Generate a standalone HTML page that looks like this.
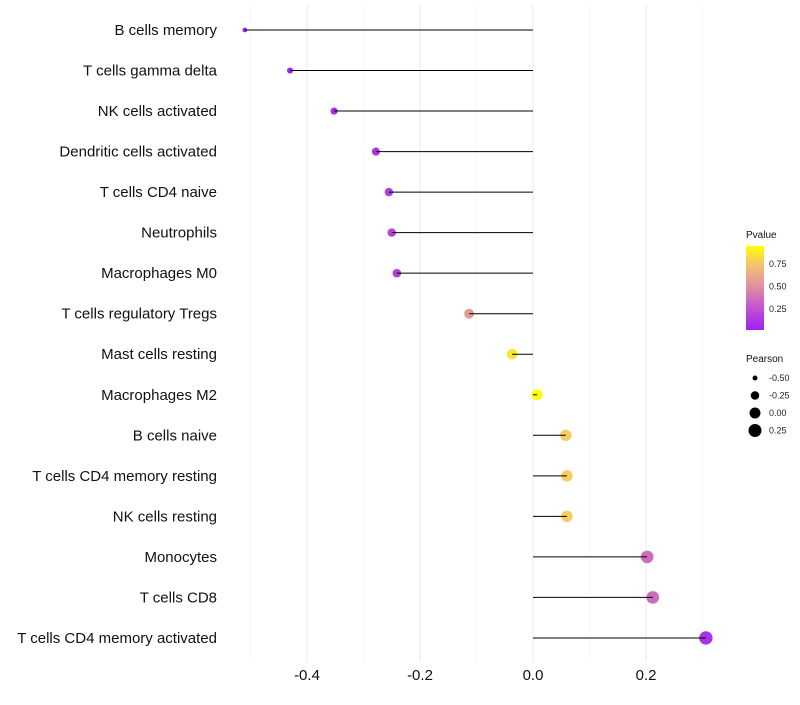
<!DOCTYPE html>
<html><head><meta charset="utf-8"><style>
body{margin:0;background:#fff;font-family:"Liberation Sans",sans-serif}
</style></head><body>
<svg id="chart" width="800" height="700" xmlns="http://www.w3.org/2000/svg">
<rect width="800" height="700" fill="#fff"/>
<g id="grid"></g><g id="marks"></g><g id="ylabels"></g><g id="xlabels"></g><g id="legend"></g>
</svg>
<script>
const categories=["B cells memory","T cells gamma delta","NK cells activated","Dendritic cells activated","T cells CD4 naive","Neutrophils","Macrophages M0","T cells regulatory  Tregs ","Mast cells resting","Macrophages M2","B cells naive","T cells CD4 memory resting","NK cells resting","Monocytes","T cells CD8","T cells CD4 memory activated"];
const pearson=[-0.51,-0.43,-0.352,-0.278,-0.255,-0.25,-0.241,-0.113,-0.037,0.007,0.058,0.06,0.06,0.202,0.212,0.306];
const pvalues=[0.02,0.05,0.08,0.12,0.17,0.19,0.17,0.55,0.86,0.95,0.78,0.78,0.78,0.36,0.36,0.1];
const xTicks=[-0.4,-0.2,0.0,0.2];
const xMinor=[-0.5,-0.3,-0.1,0.1,0.3];
const legendP=[0.75,0.5,0.25];
const legendSizes=[-0.5,-0.25,0,0.25];
const NS="http://www.w3.org/2000/svg";
function xs(v){return 533+v*565;}
function ys(i){return 30+i*40.53;}
function rs(v){return Math.sqrt(Math.max(2,30+48*v));}
const stops=[[0.02,[160,32,240]],[0.25,[192,80,210]],[0.5,[224,143,160]],[0.75,[245,196,112]],[0.95,[255,255,0]]];
function col(p){p=Math.max(0.02,Math.min(0.95,p));for(let k=0;k<stops.length-1;k++){const [p0,a]=stops[k],[p1,b]=stops[k+1];if(p<=p1){const t=(p-p0)/(p1-p0);return `rgb(${a.map((x,j)=>Math.round(x+(b[j]-x)*t))})`;}}return 'rgb(255,255,0)';}
function mk(tag,attrs,parent,text){const e=document.createElementNS(NS,tag);for(const k in attrs)e.setAttribute(k,attrs[k]);if(text!==undefined)e.textContent=text;document.getElementById(parent).appendChild(e);return e;}
xMinor.forEach(v=>{const l=mk('line',{x1:xs(v),x2:xs(v),y1:5,y2:662,stroke:'#f3f3f3','stroke-width':0.6},'grid');

});
xTicks.forEach(v=>{const l=mk('line',{x1:xs(v),x2:xs(v),y1:5,y2:662,stroke:'#ebebeb','stroke-width':1},'grid');


const t=mk('text',{x:xs(v),y:680,'text-anchor':'middle','font-size':15,fill:'#111'},'xlabels',v.toFixed(1));

});
categories.forEach((c,i)=>{const y=ys(i);
const t=mk('text',{x:217,y:y+5,'text-anchor':'end','font-size':15,fill:'#111'},'ylabels',c);


const d=mk('circle',{cx:xs(pearson[i]),cy:y,r:rs(pearson[i]),fill:col(pvalues[i])},'marks');


const l=mk('line',{x1:xs(0),x2:xs(pearson[i]),y1:y,y2:y,stroke:'#000','stroke-width':1},'marks');

});
const lt=mk('text',{x:746,y:238,'font-size':10,fill:'#111'},'legend','Pvalue');


const defs=mk('defs',{},'legend');
const g=document.createElementNS(NS,'linearGradient');g.setAttribute('id','pg');g.setAttribute('x1','0');g.setAttribute('y1','1');g.setAttribute('x2','0');g.setAttribute('y2','0');defs.appendChild(g);
for(let k=0;k<=20;k++){const s=document.createElementNS(NS,'stop');s.setAttribute('offset',k/20);s.setAttribute('stop-color',col(0.02+0.93*k/20));g.appendChild(s);}
const bar=mk('rect',{x:746,y:246,width:18,height:84,fill:'url(#pg)'},'legend');


legendP.forEach(p=>{const y=330-(p-0.02)/0.93*84;
const t=mk('text',{x:769,y:y+3,'font-size':9,fill:'#222'},'legend',p.toFixed(2));

});
const st=mk('text',{x:746,y:362,'font-size':10,fill:'#111'},'legend','Pearson');


legendSizes.forEach((v,k)=>{const y=378+k*17.5;
const c=mk('circle',{cx:755,cy:y,r:rs(v),fill:'#000'},'legend');


const t=mk('text',{x:769,y:y+3,'font-size':9,fill:'#222'},'legend',v.toFixed(2));

});
</script>
</body></html>
